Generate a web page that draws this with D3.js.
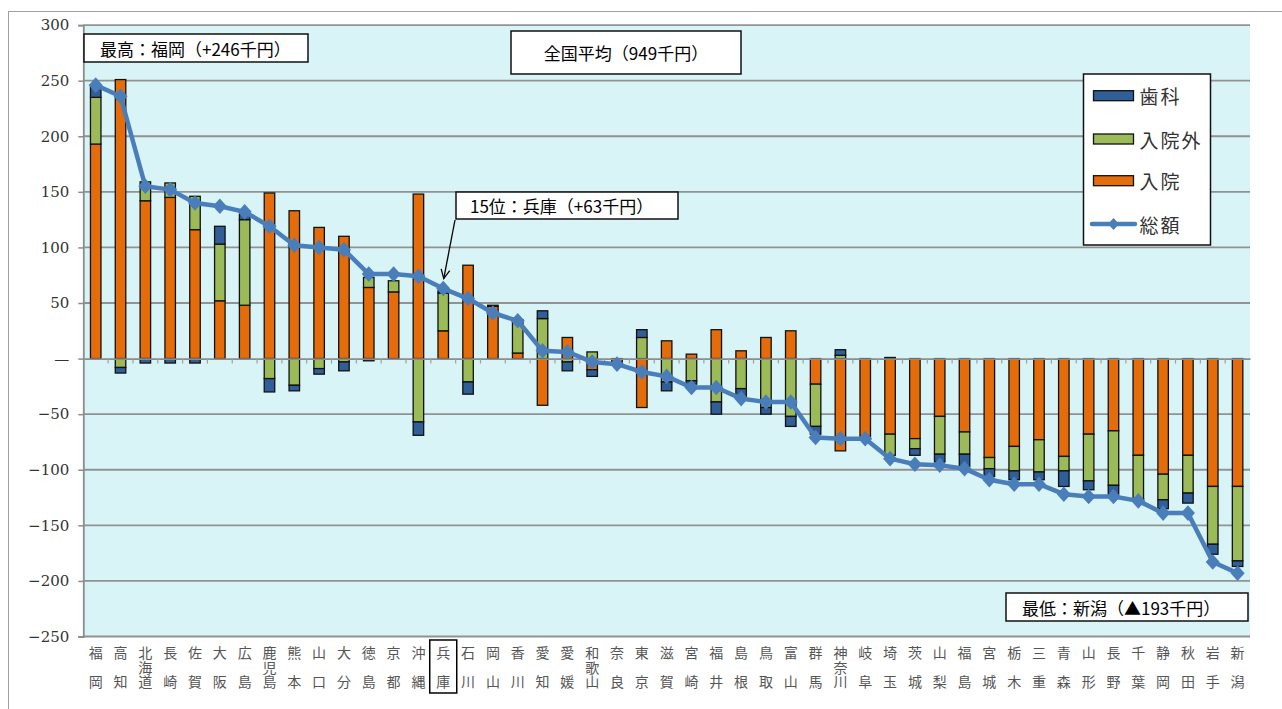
<!DOCTYPE html>
<html>
<head>
<meta charset="utf-8">
<script src="https://cdn.jsdelivr.net/npm/d3@7"></script>
<style>
  html, body { margin: 0; padding: 0; background: #fff; }
  svg { display: block; }
</style>
</head>
<body>
<svg id="chart" width="1282" height="709"></svg>
<script>
// ---- data ----
const categories = ["福岡","高知","北海道","長崎","佐賀","大阪","広島","鹿児島","熊本","山口","大分","徳島","京都","沖縄","兵庫","石川","岡山","香川","愛知","愛媛","和歌山","奈良","東京","滋賀","宮崎","福井","島根","鳥取","富山","群馬","神奈川","岐阜","埼玉","茨城","山梨","福島","宮城","栃木","三重","青森","山形","長野","千葉","静岡","秋田","岩手","新潟"];
const inpatient  = [193,251,142,145,116,52,48,149,133,118,110,64,60,148,25,84,47,5,-42,19,-10,-3,-44,16,4,26,7,19,25,-23,-83,-70,-68,-72,-52,-66,-89,-79,-73,-88,-68,-65,-87,-104,-87,-115,-115];
const outpatient = [42,-8,17,13,30,51,77,-18,-24,-9,-3,9,10,-57,34,-21,1,30,36,-3,6,-1,19,-21,-20,-39,-27,-44,-52,-38,3,0,-19,-9,-34,-20,-10,-22,-29,-13,-42,-49,-39,-23,-34,-52,-67];
const dental     = [11,-5,-4,-4,-4,16,5,-12,-5,-5,-8,-2,0,-12,2,-11,0,0,7,-8,-6,-1,7,-8,-3,-11,-7,-6,-9,-7,5,0,1,-6,-7,-11,-7,-8,-7,-14,-8,-8,-1,-8,-9,-9,-5];
const total      = [246,236,155,152,140,137,132,119,102,100,98,76,76,74,63,54,41,34,7,6,-3,-5,-12,-16,-26,-26,-36,-39,-39,-71,-72,-72,-90,-95,-96,-99,-109,-113,-113,-122,-124,-124,-128,-139,-139,-183,-193];
const yTicks = [300,250,200,150,100,50,0,-50,-100,-150,-200,-250];
const seriesNames = ["歯科","入院外","入院","総額"];
const annotations = [
  {text:"最高：福岡（+246千円）", box:[84,34,308,62], tx:100},
  {text:"全国平均（949千円）", box:[511,31,741,74], tx:null},
  {text:"15位：兵庫（+63千円）", box:[456,192,678,219], tx:470},
  {text:"最低：新潟（▲193千円）", box:[1006,593,1248,621], tx:1022}
];
const highlight = "兵庫";

// ---- layout ----
const W = 1282, H = 709;
const plot = {left: 83.3, right: 1250, top: 25.1, bottom: 636.5};
const colors = {inpatient:"#E46C0A", outpatient:"#9BBB59", dental:"#2F5F96", line:"#4A7EBB"};
const svg = d3.select("#chart");

const x = d3.scaleBand().domain(categories).range([plot.left, plot.right]).padding(0);
const y = d3.scaleLinear().domain([-250, 300]).range([plot.bottom, plot.top]);

// outer frame
svg.append("line").attr("x1",8).attr("x2",W).attr("y1",11.5).attr("y2",11.5).attr("stroke","#a0a0a0").attr("stroke-width",1);
svg.append("line").attr("x1",8.5).attr("x2",8.5).attr("y1",11).attr("y2",H).attr("stroke","#a0a0a0").attr("stroke-width",1);

// plot background
svg.append("rect").attr("x",plot.left).attr("y",plot.top).attr("width",plot.right-plot.left).attr("height",plot.bottom-plot.top).attr("fill","#D8F4F6");

// gridlines
svg.append("g").selectAll("line").data(yTicks.filter(d=>d!==0)).join("line")
  .attr("x1",plot.left).attr("x2",plot.right)
  .attr("y1",d=>y(d)).attr("y2",d=>y(d))
  .attr("stroke","#929292").attr("stroke-width",1.8);

// y axis
const yAxis = d3.axisLeft(y).tickValues(yTicks).tickSize(5).tickPadding(9)
  .tickFormat(d => d===0 ? "—" : (d<0 ? "−"+Math.abs(d) : String(d)));
const gy = svg.append("g").attr("transform",`translate(${plot.left},0)`).call(yAxis);
gy.select(".domain").attr("stroke","#8c8c8c").attr("stroke-width",1.8);
gy.selectAll(".tick line").attr("stroke","#8c8c8c").attr("stroke-width",1.5);
gy.selectAll(".tick text").attr("font-family","'DejaVu Serif', 'Liberation Serif', serif").attr("font-size",15).attr("fill","#333");

// stacked bars
const rows = categories.map((c,i)=>({cat:c, inpatient:inpatient[i], outpatient:outpatient[i], dental:dental[i]}));
const keys = ["inpatient","outpatient","dental"];
const stack = d3.stack().keys(keys).offset(d3.stackOffsetDiverging)(rows);
const barW = 10.5;
svg.append("g").selectAll("g").data(stack).join("g")
  .attr("fill", s => colors[s.key])
  .selectAll("rect").data(s => s).join("rect")
  .attr("x", d => x(d.data.cat) + x.bandwidth()/2 - barW/2)
  .attr("y", d => y(Math.max(d[0],d[1])))
  .attr("width", barW)
  .attr("height", d => Math.abs(y(d[0]) - y(d[1])))
  .attr("stroke", d => Math.abs(d[1]-d[0])>0 ? "#111" : "none")
  .attr("stroke-width", 1.3);

// x axis (zero line with small ticks below at category boundaries)
const xAxis = d3.axisBottom(x).tickSize(0).tickFormat("");
const gx = svg.append("g").attr("transform",`translate(0,${y(0)})`).call(xAxis);
gx.select(".domain").attr("stroke","#8c8c8c").attr("stroke-width",1.8);
svg.append("g").selectAll("line").data(categories.slice(1)).join("line")
  .attr("x1", d => x(d)).attr("x2", d => x(d))
  .attr("y1", y(0)).attr("y2", y(0)+5)
  .attr("stroke","#a0a0a0").attr("stroke-width",1.2);

// total line
const cx = c => x(c) + x.bandwidth()/2;
const line = d3.line().x((d,i)=>cx(categories[i])).y(d=>y(d));
svg.append("path").datum(total).attr("d", line).attr("fill","none")
  .attr("stroke", colors.line).attr("stroke-width",4.5).attr("stroke-linejoin","round");
const dia = 7.8;
svg.append("g").selectAll("path").data(total).join("path")
  .attr("d",(d,i)=>{const px=cx(categories[i]), py=y(d); return `M${px},${py-dia}L${px+dia*0.9},${py}L${px},${py+dia}L${px-dia*0.9},${py}Z`;})
  .attr("fill", colors.line);

// category labels (vertical writing, one text element per category)
const lab = svg.append("g").attr("font-family","'Noto Sans CJK JP', sans-serif").attr("font-size",14).attr("fill","#555");
categories.forEach(c=>{
  const n = Array.from(c).length;
  lab.append("text")
    .attr("x", cx(c)).attr("y", 646)
    .attr("writing-mode","vertical-rl")
    .attr("text-anchor","start")
    .attr("letter-spacing", n===3 ? 0.5 : 15)
    .text(c);
  if (c===highlight) {
    svg.append("rect").attr("x",cx(c)-13.5).attr("y",640).attr("width",27).attr("height",53)
      .attr("fill","none").attr("stroke","#000").attr("stroke-width",1.5);
  }
});

// annotations
annotations.forEach(a=>{
  const [x0,y0,x1,y1] = a.box;
  svg.append("rect").attr("x",x0).attr("y",y0).attr("width",x1-x0).attr("height",y1-y0)
    .attr("fill","#fff").attr("stroke","#111").attr("stroke-width",1.5);
  const t = svg.append("text").attr("y",(y0+y1)/2).attr("dominant-baseline","central")
    .attr("font-family","'Noto Sans CJK JP', sans-serif").attr("font-size",17).attr("fill","#000").text(a.text);
  if (a.tx===null) t.attr("x",(x0+x1)/2).attr("text-anchor","middle");
  else t.attr("x",a.tx);
});

// arrow from 15位 box to 兵庫 point
const hx = cx(highlight), hy = y(total[categories.indexOf(highlight)]);
const ax0 = 455, ay0 = 220, ax1 = hx + 0.5, ay1 = hy - 10;
svg.append("line").attr("x1",ax0).attr("y1",ay0).attr("x2",ax1).attr("y2",ay1).attr("stroke","#000").attr("stroke-width",1.3);
{
  const ang = Math.atan2(ay1-ay0, ax1-ax0), L = 10, sp = 0.45;
  const p1 = [ax1 - L*Math.cos(ang-sp), ay1 - L*Math.sin(ang-sp)];
  const p2 = [ax1 - L*Math.cos(ang+sp), ay1 - L*Math.sin(ang+sp)];
  svg.append("path").attr("d",`M${p1[0]},${p1[1]}L${ax1},${ay1}L${p2[0]},${p2[1]}`)
    .attr("fill","none").attr("stroke","#000").attr("stroke-width",1.3);
}

// legend
const lg = svg.append("g");
lg.append("rect").attr("x",1083.5).attr("y",74).attr("width",127).attr("height",171)
  .attr("fill","#fff").attr("stroke","#111").attr("stroke-width",1.5);
const legendItems = [
  {name:seriesNames[0], color:colors.dental, type:"bar", y:95.7},
  {name:seriesNames[1], color:colors.outpatient, type:"bar", y:139},
  {name:seriesNames[2], color:colors.inpatient, type:"bar", y:180.7},
  {name:seriesNames[3], color:colors.line, type:"line", y:224}
];
legendItems.forEach(it=>{
  if (it.type==="bar") {
    lg.append("rect").attr("x",1093.5).attr("y",it.y-5).attr("width",40).attr("height",10)
      .attr("fill",it.color).attr("stroke","#111").attr("stroke-width",1.3);
  } else {
    lg.append("line").attr("x1",1092).attr("x2",1135).attr("y1",it.y).attr("y2",it.y)
      .attr("stroke",it.color).attr("stroke-width",4.5).attr("stroke-linecap","round");
    lg.append("path").attr("d",`M1113.5,${it.y-6}L1119,${it.y}L1113.5,${it.y+6}L1108,${it.y}Z`).attr("fill",it.color);
  }
  lg.append("text").attr("x",1139.5).attr("y",it.y).attr("dominant-baseline","central")
    .attr("font-family","'Noto Sans CJK JP', sans-serif").attr("font-size",19).attr("letter-spacing",2)
    .attr("fill","#333").text(it.name);
});
</script>
</body>
</html>
